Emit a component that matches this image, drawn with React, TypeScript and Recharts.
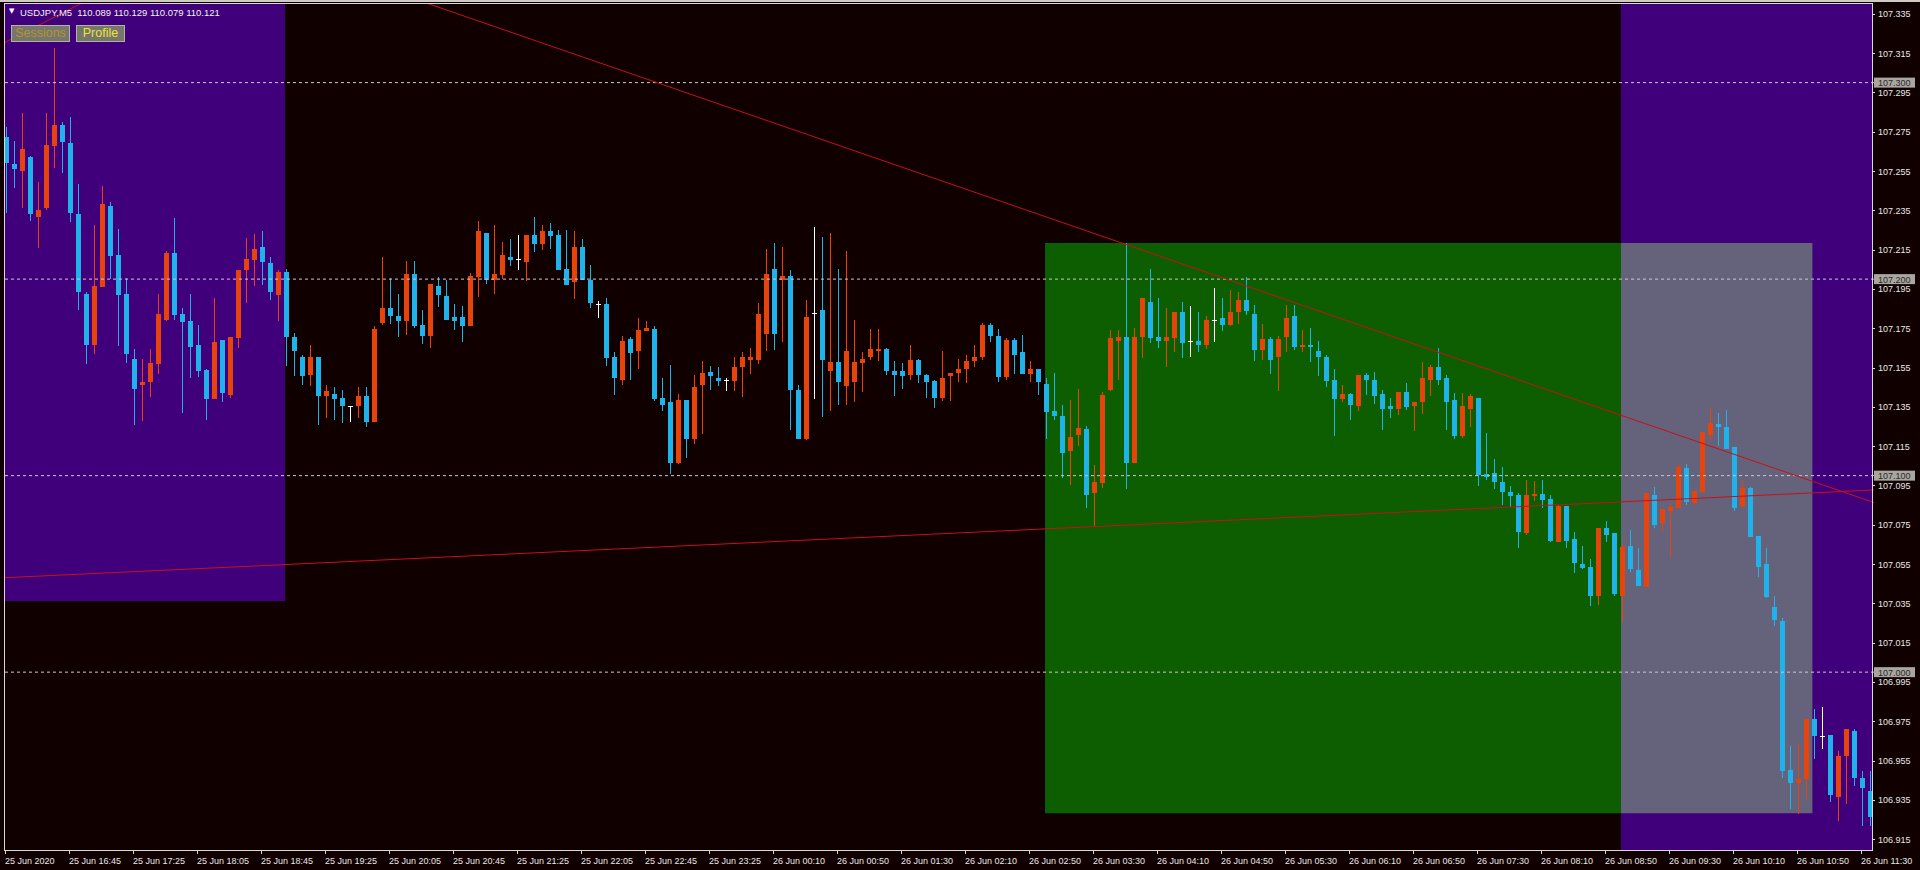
import React from 'react';
import { ComposedChart, Bar, XAxis, YAxis, ReferenceLine, ReferenceArea } from 'recharts';

// USDJPY M5, 25 Jun 2020 16:05 -> 26 Jun 2020 11:35 (one bar every 8 px)
const timeLabels = [
  '25 Jun 2020', '25 Jun 16:45', '25 Jun 17:25', '25 Jun 18:05', '25 Jun 18:45', '25 Jun 19:25',
  '25 Jun 20:05', '25 Jun 20:45', '25 Jun 21:25', '25 Jun 22:05', '25 Jun 22:45', '25 Jun 23:25',
  '26 Jun 00:10', '26 Jun 00:50', '26 Jun 01:30', '26 Jun 02:10', '26 Jun 02:50', '26 Jun 03:30',
  '26 Jun 04:10', '26 Jun 04:50', '26 Jun 05:30', '26 Jun 06:10', '26 Jun 06:50', '26 Jun 07:30',
  '26 Jun 08:10', '26 Jun 08:50', '26 Jun 09:30', '26 Jun 10:10', '26 Jun 10:50', '26 Jun 11:30',
];
const barsPerLabel = 8;

const priceTicks = [
  106.915, 106.935, 106.955, 106.975, 106.995, 107.015, 107.035, 107.055, 107.075, 107.095, 107.115,
  107.135, 107.155, 107.175, 107.195, 107.215, 107.235, 107.255, 107.275, 107.295, 107.315, 107.335,
];
const levelLines = [107.0, 107.1, 107.2, 107.3];

const opens = [
  107.2724, 107.2586, 107.2552, 107.2620, 107.2318, 107.2361, 107.2679, 107.2784, 107.2691, 107.2330,
  107.1925, 107.1663, 107.1962, 107.2372, 107.2123, 107.1925, 107.1595, 107.1463, 107.1475, 107.1570,
  107.1790, 107.2132, 107.1824, 107.1785, 107.1666, 107.1536, 107.1392, 107.1688, 107.1412, 107.1700,
  107.2044, 107.2098, 107.2166, 107.2081, 107.1920, 107.2036, 107.1705, 107.1604, 107.1510, 107.1604,
  107.1407, 107.1417, 107.1395, 107.1353, 107.1353, 107.1407, 107.1272, 107.1776, 107.1853, 107.1814,
  107.1788, 107.2025, 107.1768, 107.1713, 107.1966, 107.1915, 107.1805, 107.1805, 107.1759, 107.2013,
  107.2237, 107.1993, 107.2022, 107.2112, 107.2102, 107.2089, 107.2225, 107.2179, 107.2245, 107.2225,
  107.2051, 107.1983, 107.2166, 107.1996, 107.1875, 107.1875, 107.1604, 107.1488, 107.1695, 107.1632,
  107.1737, 107.1748, 107.1395, 107.1375, 107.1062, 107.1387, 107.1184, 107.1463, 107.1526, 107.1497,
  107.1488, 107.1483, 107.1551, 107.1590, 107.1590, 107.1722, 107.2052, 107.1993, 107.2017, 107.1438,
  107.1184, 107.1830, 107.1844, 107.1531, 107.1576, 107.1454, 107.1475, 107.1573, 107.1605, 107.1632,
  107.1644, 107.1531, 107.1531, 107.1510, 107.1587, 107.1510, 107.1480, 107.1395, 107.1505, 107.1522,
  107.1543, 107.1581, 107.1604, 107.1768, 107.1710, 107.1502, 107.1690, 107.1627, 107.1519, 107.1544,
  107.1468, 107.1327, 107.1306, 107.1124, 107.1206, 107.1238, 107.0913, 107.0964, 107.1434, 107.1685,
  107.1705, 107.1062, 107.1705, 107.1886, 107.1705, 107.1683, 107.1700, 107.1835, 107.1687, 107.1687,
  107.1663, 107.1793, 107.1802, 107.1764, 107.1835, 107.1895, 107.1822, 107.1641, 107.1696, 107.1605,
  107.1705, 107.1814, 107.1654, 107.1666, 107.1632, 107.1604, 107.1488, 107.1392, 107.1417, 107.1353,
  107.1512, 107.1488, 107.1417, 107.1356, 107.1341, 107.1426, 107.1353, 107.1375, 107.1487, 107.1553,
  107.1497, 107.1387, 107.1204, 107.1341, 107.1395, 107.1006, 107.1014, 107.0969, 107.0918, 107.0899,
  107.0706, 107.0896, 107.0908, 107.0879, 107.0664, 107.0848, 107.0679, 107.0549, 107.0537, 107.0388,
  107.0735, 107.0710, 107.0388, 107.0642, 107.0520, 107.0435, 107.0899, 107.0757, 107.0820, 107.0837,
  107.1040, 107.0859, 107.0916, 107.1209, 107.1265, 107.1248, 107.1147, 107.0847, 107.0938, 107.0692,
  107.0549, 107.0332, 107.0261, 106.9504, 106.9436, 106.9456, 106.9761, 106.9676, 106.9680, 106.9363,
  106.9572, 106.9702, 106.9460, 106.9397,
];

const highs = [
  107.2774, 107.2704, 107.2846, 107.2625, 107.2496, 107.2846, 107.3175, 107.2801, 107.2826, 107.2483,
  107.1934, 107.2276, 107.2474, 107.2394, 107.2256, 107.2005, 107.1646, 107.1595, 107.1646, 107.1925,
  107.2145, 107.2310, 107.1853, 107.1925, 107.1768, 107.1544, 107.1903, 107.1688, 107.1705, 107.2047,
  107.2208, 107.2229, 107.2247, 107.2115, 107.2047, 107.2050, 107.1726, 107.1615, 107.1663, 107.1604,
  107.1461, 107.1451, 107.1438, 107.1353, 107.1449, 107.1451, 107.1760, 107.2112, 107.2005, 107.1925,
  107.2093, 107.2091, 107.1844, 107.1976, 107.2013, 107.1996, 107.1875, 107.1864, 107.2030, 107.2296,
  107.2237, 107.2276, 107.2188, 107.2205, 107.2225, 107.2225, 107.2318, 107.2276, 107.2288, 107.2249,
  107.2249, 107.2247, 107.2203, 107.2073, 107.1891, 107.1903, 107.1627, 107.1710, 107.1708, 107.1802,
  107.1788, 107.1760, 107.1497, 107.1565, 107.1417, 107.1387, 107.1514, 107.1584, 107.1556, 107.1553,
  107.1497, 107.1606, 107.1627, 107.1651, 107.1881, 107.2152, 107.2186, 107.2166, 107.2047, 107.1461,
  107.1895, 107.2267, 107.2216, 107.2237, 107.2051, 107.2144, 107.1793, 107.1627, 107.1746, 107.1746,
  107.1651, 107.1581, 107.1573, 107.1666, 107.1595, 107.1519, 107.1488, 107.1632, 107.1522, 107.1594,
  107.1615, 107.1663, 107.1777, 107.1777, 107.1746, 107.1701, 107.1701, 107.1717, 107.1581, 107.1544,
  107.1497, 107.1522, 107.1358, 107.1387, 107.1442, 107.1251, 107.1052, 107.1426, 107.1742, 107.1742,
  107.2183, 107.1751, 107.1903, 107.2051, 107.1903, 107.1853, 107.1835, 107.1886, 107.1864, 107.1835,
  107.1814, 107.1954, 107.1903, 107.1946, 107.1937, 107.2013, 107.1870, 107.1770, 107.1708, 107.1710,
  107.1870, 107.1870, 107.1742, 107.1753, 107.1683, 107.1615, 107.1543, 107.1461, 107.1422, 107.1512,
  107.1522, 107.1526, 107.1438, 107.1395, 107.1426, 107.1473, 107.1375, 107.1576, 107.1565, 107.1650,
  107.1514, 107.1421, 107.1422, 107.1415, 107.1395, 107.1218, 107.1087, 107.1045, 107.0946, 107.0913,
  107.0980, 107.0972, 107.0980, 107.0904, 107.0853, 107.0848, 107.0715, 107.0642, 107.0578, 107.0735,
  107.0769, 107.0710, 107.0659, 107.0721, 107.0633, 107.0913, 107.0943, 107.0828, 107.0859, 107.1057,
  107.1057, 107.0924, 107.1221, 107.1345, 107.1319, 107.1336, 107.1147, 107.0972, 107.0943, 107.0692,
  107.0633, 107.0385, 107.0278, 106.9626, 106.9634, 106.9761, 106.9812, 106.9821, 106.9680, 106.9600,
  106.9710, 106.9710, 106.9499, 106.9499,
];

const lows = [
  107.2335, 107.2467, 107.2361, 107.2293, 107.2160, 107.2350, 107.2564, 107.2542, 107.2293, 107.1840,
  107.1570, 107.1620, 107.1962, 107.2002, 107.1663, 107.1570, 107.1260, 107.1277, 107.1400, 107.1519,
  107.1790, 107.1790, 107.1319, 107.1497, 107.1505, 107.1282, 107.1392, 107.1370, 107.1397, 107.1649,
  107.1878, 107.1962, 107.1971, 107.1898, 107.1790, 107.1556, 107.1505, 107.1463, 107.1454, 107.1260,
  107.1292, 107.1282, 107.1272, 107.1272, 107.1292, 107.1246, 107.1272, 107.1764, 107.1773, 107.1705,
  107.1717, 107.1750, 107.1671, 107.1650, 107.1861, 107.1790, 107.1742, 107.1680, 107.1759, 107.1909,
  107.1976, 107.1924, 107.2002, 107.2068, 107.2047, 107.1993, 107.2140, 107.2149, 107.2157, 107.2047,
  107.1971, 107.1903, 107.1993, 107.1853, 107.1802, 107.1558, 107.1410, 107.1461, 107.1488, 107.1542,
  107.1737, 107.1378, 107.1330, 107.1011, 107.1062, 107.1090, 107.1163, 107.1214, 107.1434, 107.1454,
  107.1429, 107.1434, 107.1400, 107.1519, 107.1569, 107.1632, 107.1641, 107.1683, 107.1234, 107.1184,
  107.1184, 107.1392, 107.1302, 107.1332, 107.1361, 107.1361, 107.1376, 107.1421, 107.1590, 107.1581,
  107.1515, 107.1404, 107.1439, 107.1488, 107.1473, 107.1395, 107.1345, 107.1378, 107.1378, 107.1475,
  107.1475, 107.1553, 107.1590, 107.1680, 107.1476, 107.1487, 107.1519, 107.1519, 107.1475, 107.1410,
  107.1187, 107.1282, 107.0989, 107.0955, 107.1153, 107.0832, 107.0735, 107.0938, 107.1434, 107.1488,
  107.0933, 107.1062, 107.1599, 107.1675, 107.1650, 107.1553, 107.1632, 107.1603, 107.1603, 107.1632,
  107.1644, 107.1680, 107.1734, 107.1764, 107.1776, 107.1819, 107.1587, 107.1587, 107.1522, 107.1429,
  107.1630, 107.1641, 107.1632, 107.1581, 107.1505, 107.1454, 107.1204, 107.1376, 107.1287, 107.1327,
  107.1410, 107.1361, 107.1234, 107.1292, 107.1311, 107.1336, 107.1225, 107.1311, 107.1409, 107.1463,
  107.1234, 107.1187, 107.1195, 107.1246, 107.0946, 107.0980, 107.0933, 107.0853, 107.0837, 107.0633,
  107.0701, 107.0870, 107.0837, 107.0667, 107.0664, 107.0633, 107.0506, 107.0523, 107.0337, 107.0345,
  107.0664, 107.0388, 107.0255, 107.0506, 107.0438, 107.0435, 107.0735, 107.0718, 107.0583, 107.0837,
  107.0847, 107.0853, 107.0913, 107.1180, 107.1150, 107.1136, 107.0820, 107.0837, 107.0689, 107.0481,
  107.0380, 107.0232, 106.9465, 106.9304, 106.9279, 106.9355, 106.9558, 106.9609, 106.9341, 106.9245,
  106.9330, 106.9422, 106.9219, 106.9219,
];

const closes = [
  107.2589, 107.2560, 107.2662, 107.2330, 107.2352, 107.2682, 107.2784, 107.2699, 107.2338, 107.1934,
  107.1663, 107.1966, 107.2383, 107.2120, 107.1920, 107.1620, 107.1443, 107.1477, 107.1573, 107.1824,
  107.2135, 107.1819, 107.1780, 107.1653, 107.1531, 107.1392, 107.1678, 107.1421, 107.1705, 107.2047,
  107.2103, 107.2154, 107.2089, 107.1932, 107.2036, 107.1703, 107.1632, 107.1505, 107.1604, 107.1405,
  107.1429, 107.1392, 107.1353, 107.1353, 107.1407, 107.1272, 107.1748, 107.1853, 107.1810, 107.1788,
  107.2027, 107.1759, 107.1713, 107.1976, 107.1920, 107.1790, 107.1788, 107.1763, 107.2018, 107.2245,
  107.1993, 107.2025, 107.2123, 107.2098, 107.2102, 107.2225, 107.2179, 107.2245, 107.2221, 107.2047,
  107.1971, 107.2166, 107.1993, 107.1881, 107.1875, 107.1597, 107.1497, 107.1683, 107.1624, 107.1741,
  107.1749, 107.1392, 107.1361, 107.1062, 107.1387, 107.1184, 107.1451, 107.1522, 107.1505, 107.1483,
  107.1488, 107.1553, 107.1606, 107.1606, 107.1824, 107.2027, 107.1722, 107.2017, 107.1434, 107.1184,
  107.1805, 107.1830, 107.1590, 107.1576, 107.1475, 107.1636, 107.1576, 107.1595, 107.1644, 107.1644,
  107.1531, 107.1510, 107.1505, 107.1587, 107.1510, 107.1475, 107.1395, 107.1497, 107.1522, 107.1543,
  107.1581, 107.1604, 107.1768, 107.1713, 107.1502, 107.1690, 107.1614, 107.1519, 107.1544, 107.1475,
  107.1322, 107.1302, 107.1113, 107.1197, 107.1240, 107.0904, 107.0969, 107.1409, 107.1700, 107.1708,
  107.1062, 107.1708, 107.1903, 107.1700, 107.1683, 107.1705, 107.1835, 107.1675, 107.1687, 107.1663,
  107.1793, 107.1793, 107.1764, 107.1835, 107.1895, 107.1840, 107.1641, 107.1696, 107.1590, 107.1696,
  107.1804, 107.1654, 107.1666, 107.1654, 107.1605, 107.1483, 107.1392, 107.1417, 107.1361, 107.1512,
  107.1488, 107.1407, 107.1341, 107.1341, 107.1426, 107.1350, 107.1375, 107.1497, 107.1553, 107.1488,
  107.1376, 107.1204, 107.1356, 107.1405, 107.1001, 107.0994, 107.0967, 107.0916, 107.0896, 107.0713,
  107.0899, 107.0909, 107.0875, 107.0667, 107.0848, 107.0667, 107.0557, 107.0532, 107.0388, 107.0735,
  107.0698, 107.0396, 107.0639, 107.0523, 107.0438, 107.0913, 107.0748, 107.0828, 107.0842, 107.1045,
  107.0865, 107.0924, 107.1221, 107.1268, 107.1248, 107.1136, 107.0837, 107.0938, 107.0689, 107.0537,
  107.0380, 107.0266, 106.9499, 106.9436, 106.9456, 106.9761, 106.9676, 106.9676, 106.9375, 106.9575,
  106.9710, 106.9460, 106.9409, 106.9262,
];

// chart objects (rectangles and trend lines), in bar index / price units
const sessionBoxes = [
  { x1: -0.5, x2: 34.875, y1: 107.0362, y2: 107.34, fill: '#40007c' },
  { x1: 129.875, x2: 225.8, y1: 106.9282, y2: 107.2184, fill: '#0c5e00' },
  { x1: 201.875, x2: 233.25, y1: 106.9095, y2: 107.34, fill: '#40007c' },
  { x1: 201.875, x2: 225.8, y1: 106.9282, y2: 107.2184, fill: '#65627b' },
];
const trendLines = [
  [{ x: -0.5, y: 107.415 }, { x: 233.5, y: 107.0863 }],
  [{ x: -0.5, y: 107.048 }, { x: 233.5, y: 107.0927 }],
  [{ x: -0.5, y: 107.3197 }, { x: 12, y: 107.3457 }],
];

const BG = '#110000';
const BULL = '#e6440c';
const BEAR = '#20b2ea';
const FONT = '"Liberation Sans", Arial, sans-serif';

const rows = opens.map((o, i) => ({ i, open: o, high: highs[i], low: lows[i], close: closes[i] }));

const Candle = (props: any) => {
  const { x, y, width, height, payload } = props;
  if (x == null || y == null) return null;
  const { open, close, high, low } = payload;
  const top = Math.min(y, y + height);
  const h = Math.abs(height);
  const k = high === low ? 0 : h / (high - low);
  const yOf = (p: number) => top + (high - p) * k;
  const color = close === open ? '#ffffff' : close > open ? BULL : BEAR;
  const bTop = Math.round(yOf(Math.max(open, close)));
  const bBot = Math.round(yOf(Math.min(open, close)));
  const wx = Math.round(x) + 2;
  return (
    <g shapeRendering="crispEdges">
      <rect x={wx} y={Math.round(top)} width={1} height={Math.max(1, Math.round(h))} fill={color} />
      <rect x={Math.round(x)} y={bTop} width={5} height={Math.max(1, bBot - bTop)} fill={color} />
    </g>
  );
};

const TimeTick = (props: any) => {
  const { x, payload } = props;
  const label = timeLabels[Math.round(payload.value / barsPerLabel)];
  const tx = Math.round(x) - 0.5;
  const ay = 850;
  return (
    <g>
      <line x1={tx} x2={tx} y1={ay} y2={ay + 4} stroke="#d8d8d8" />
      <text x={tx - 0.5} y={ay + 14} fill="#e8e8e8" fontSize={9} fontFamily={FONT} textAnchor="start">
        {label}
      </text>
    </g>
  );
};

const PriceTick = (props: any) => {
  const { x, y, payload } = props;
  const v = payload.value as number;
  const isLevel = Math.round(v * 1000) % 100 === 0;
  if (isLevel) {
    return (
      <g>
        <rect x={x} y={y - 5} width={41} height={10} fill="#a9a6a0" />
        <text x={x + 4} y={y + 3.5} fill="#2a2a2a" fontSize={9} fontFamily={FONT}>
          {v.toFixed(3)}
        </text>
      </g>
    );
  }
  return (
    <g>
      <line x1={x - 2} x2={x + 1} y1={Math.round(y) + 0.5} y2={Math.round(y) + 0.5} stroke="#d8d8d8" />
      <text x={x + 4} y={y + 3.5} fill="#e8e8e8" fontSize={9} fontFamily={FONT}>
        {v.toFixed(3)}
      </text>
    </g>
  );
};

const btn = (color: string): React.CSSProperties => ({
  position: 'absolute',
  top: 25,
  height: 17,
  boxSizing: 'border-box',
  background: '#77766a',
  border: '1px solid #b4b0a8',
  color,
  fontFamily: FONT,
  fontSize: 12.5,
  lineHeight: '15px',
  textAlign: 'center',
});

export default function App() {
  return (
    <div style={{ position: 'absolute', left: 0, top: 0, width: 1920, height: 870, background: BG, overflow: 'hidden' }}>
      <ComposedChart width={1920} height={870} data={rows} margin={{ top: 4, right: 0, bottom: 0, left: 2 }}>
        <XAxis
          xAxisId="n"
          dataKey="i"
          type="number"
          domain={[-0.5, 233.5]}
          allowDataOverflow
          ticks={timeLabels.map((_, k) => k * barsPerLabel)}
          interval={0}
          height={20}
          tickSize={0}
          tickMargin={0}
          axisLine={false}
          tickLine={false}
          tick={<TimeTick />}
        />
        <XAxis xAxisId="c" dataKey="i" type="category" hide height={0} />
        <YAxis
          orientation="right"
          type="number"
          domain={[106.9095, 107.34]}
          allowDataOverflow
          ticks={[...priceTicks, ...levelLines]}
          interval={0}
          width={46}
          tickSize={0}
          tickMargin={0}
          axisLine={false}
          tickLine={false}
          tick={<PriceTick />}
        />
        {sessionBoxes.map((b, k) => (
          <ReferenceArea
            key={'box' + k}
            xAxisId="n"
            x1={b.x1}
            x2={b.x2}
            y1={b.y1}
            y2={b.y2}
            fill={b.fill}
            fillOpacity={1}
            stroke="none"
            ifOverflow="hidden"
          />
        ))}
        {levelLines.map((v) => (
          <ReferenceLine key={'lvl' + v} xAxisId="n" y={v} stroke="#cfc6d4" strokeDasharray="3 3" />
        ))}
        <Bar
          xAxisId="c"
          dataKey={(d: any) => [d.low, d.high]}
          barSize={5}
          shape={(p: any) => <Candle {...p} />}
          isAnimationActive={false}
        />
        {trendLines.map((seg, k) => (
          <ReferenceLine key={'tl' + k} xAxisId="n" segment={seg} stroke="#c81018" strokeWidth={1} ifOverflow="hidden" />
        ))}
      </ComposedChart>

      {/* chart frame */}
      <div style={{ position: 'absolute', left: 0, top: 0, width: 4, height: 870, background: BG }} />
      <div
        style={{
          position: 'absolute',
          left: 4,
          top: 3,
          width: 1869,
          height: 848,
          boxSizing: 'border-box',
          border: '1px solid #d8d8d8',
          pointerEvents: 'none',
        }}
      />
      <div style={{ position: 'absolute', left: 0, top: 0, width: 1920, height: 2, background: '#cfcbc4' }} />

      {/* header */}
      <div style={{ position: 'absolute', left: 9, top: 7, color: '#ffffff', fontFamily: '"DejaVu Sans", sans-serif', fontSize: 7 }}>▼</div>
      <div
        style={{
          position: 'absolute',
          left: 20,
          top: 7,
          color: '#f2f2f2',
          fontFamily: FONT,
          fontSize: 9.5,
          lineHeight: '11px',
          whiteSpace: 'pre',
        }}
      >
        {'USDJPY,M5  110.089 110.129 110.079 110.121'}
      </div>
      <div style={{ ...btn('#b39433'), left: 11, width: 59 }}>Sessions</div>
      <div style={{ ...btn('#ece43a'), left: 76, width: 49 }}>Profile</div>
    </div>
  );
}
